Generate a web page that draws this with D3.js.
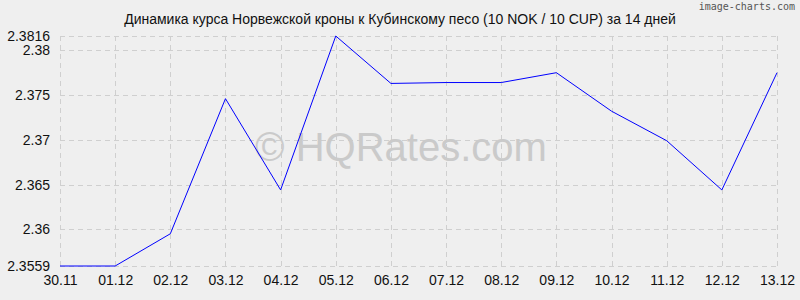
<!DOCTYPE html>
<html>
<head>
<meta charset="utf-8">
<script src="https://cdn.jsdelivr.net/npm/d3@7"></script>
<style>
  body { margin: 0; background: #efefef; }
  svg { display: block; font-family: "Liberation Sans", Arial, sans-serif; }
</style>
</head>
<body>
<script>
// chart data
var dates = ["30.11", "01.12", "02.12", "03.12", "04.12", "05.12", "06.12",
             "07.12", "08.12", "09.12", "10.12", "11.12", "12.12", "13.12"];
var rates = [2.3559, 2.3559, 2.3595, 2.3746, 2.3644, 2.3816, 2.3763,
             2.3764, 2.3764, 2.3775, 2.3732, 2.3699, 2.3644, 2.3775];
var yTicks = [2.3559, 2.36, 2.365, 2.37, 2.375, 2.38, 2.3816];
var yTickLabels = ["2.3559", "2.36", "2.365", "2.37", "2.375", "2.38", "2.3816"];

var W = 800, H = 300;
var plotLeft = 60, plotRight = 777, plotTop = 36, plotBottom = 266;

var svg = d3.select("body").append("svg")
    .attr("width", W)
    .attr("height", H);

svg.append("rect").attr("width", W).attr("height", H).attr("fill", "#efefef");

var x = d3.scalePoint().domain(dates).range([plotLeft, plotRight]);
var y = d3.scaleLinear().domain([2.3559, 2.3816]).range([plotBottom, plotTop]);

// grid
var grid = svg.append("g").attr("stroke", "#cfcfcf").attr("stroke-dasharray", "5,4");
grid.selectAll("line.v").data(dates).enter().append("line")
    .attr("x1", function(d) { return Math.round(x(d)) + 0.5; })
    .attr("x2", function(d) { return Math.round(x(d)) + 0.5; })
    .attr("y1", plotTop).attr("y2", plotBottom);
grid.selectAll("line.h").data(yTicks).enter().append("line")
    .attr("x1", plotLeft).attr("x2", plotRight)
    .attr("y1", function(d) { return Math.round(y(d)) + 0.5; })
    .attr("y2", function(d) { return Math.round(y(d)) + 0.5; });

// axes labels
var yAxis = d3.axisLeft(y).tickValues(yTicks)
    .tickFormat(function(d, i) { return yTickLabels[i]; })
    .tickSize(0).tickPadding(10);
var gy = svg.append("g").attr("transform", "translate(" + plotLeft + ",0)").call(yAxis);
gy.select(".domain").remove();
gy.selectAll("text").attr("font-size", 14).attr("fill", "#111")
    .attr("font-family", "Liberation Sans, Arial, sans-serif");

var xAxis = d3.axisBottom(x).tickSize(0).tickPadding(9);
var gx = svg.append("g").attr("transform", "translate(0," + plotBottom + ")").call(xAxis);
gx.select(".domain").remove();
gx.selectAll("text").attr("font-size", 14).attr("fill", "#111")
    .attr("font-family", "Liberation Sans, Arial, sans-serif");

// watermark
svg.append("text")
    .attr("x", 401).attr("y", 161)
    .attr("text-anchor", "middle")
    .attr("font-size", 40)
    .attr("fill", "#cacaca")
    .text("© HQRates.com");

// line
var line = d3.line()
    .x(function(d, i) { return x(dates[i]); })
    .y(function(d) { return y(d); });
svg.append("path")
    .datum(rates)
    .attr("d", line)
    .attr("fill", "none")
    .attr("stroke", "#0000ff")
    .attr("stroke-width", 1);

// title
svg.append("text")
    .attr("x", 400).attr("y", 24)
    .attr("text-anchor", "middle")
    .attr("font-size", 14)
    .attr("fill", "#111")
    .text("Динамика курса Норвежской кроны к Кубинскому песо (10 NOK / 10 CUP) за 14 дней");

svg.append("text")
    .attr("x", 795).attr("y", 10)
    .attr("text-anchor", "end")
    .attr("font-size", 10)
    .attr("font-family", "DejaVu Sans Mono, monospace")
    .attr("fill", "#555")
    .text("image-charts.com");
</script>
</body>
</html>
